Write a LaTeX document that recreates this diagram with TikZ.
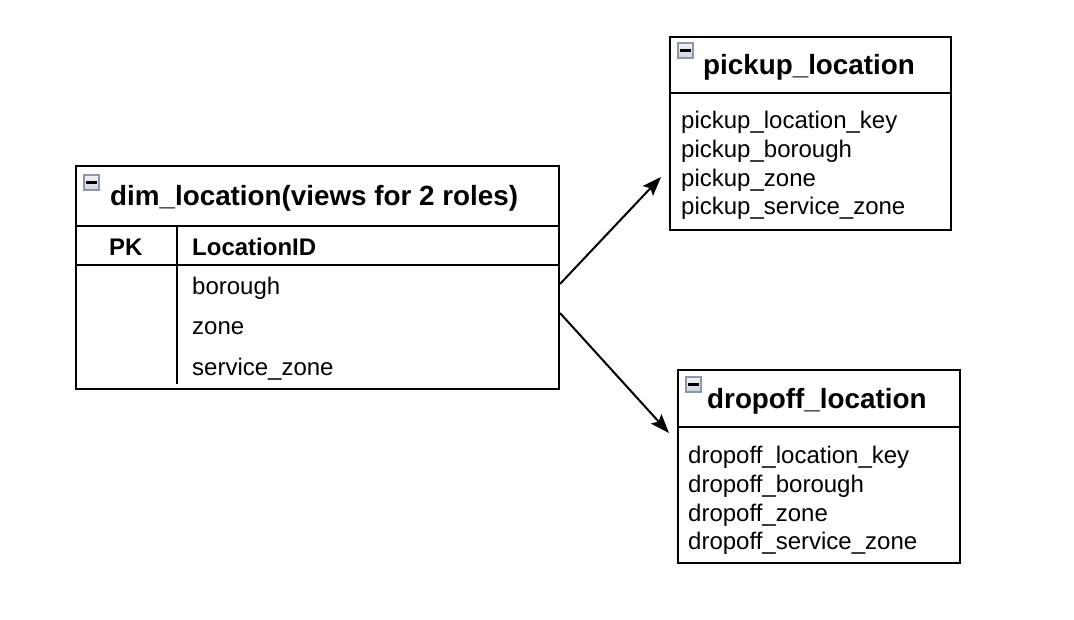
\documentclass[tikz,border=0pt]{standalone}
\usepackage{fontspec}
\setmainfont{Liberation Sans}
\usetikzlibrary{arrows.meta}
\definecolor{iconborder}{HTML}{8E97A8}
\definecolor{iconfilltop}{HTML}{F2F3F6}
\definecolor{iconfillbot}{HTML}{CDD2DA}
\begin{document}
\begin{tikzpicture}[x=1pt,y=-1pt,
  box/.style={draw, line width=2pt, anchor=north west, inner sep=0pt},
  rule/.style={line width=2pt},
  vrule/.style={line width=1.6pt},
  title/.style={anchor=base west, inner sep=0pt, font=\fontsize{27.8}{33}\selectfont\bfseries},
  txt/.style={anchor=base west, inner sep=0pt, font=\fontsize{24}{29}\selectfont},
  btxt/.style={anchor=base west, inner sep=0pt, font=\fontsize{24}{29}\selectfont\bfseries},
  icon/.style={draw=iconborder, line width=1.6pt, top color=iconfilltop, bottom color=iconfillbot, minimum size=15.5pt, inner sep=0pt},
  minus/.style={line width=2.6pt, black},
  link/.style={line width=2pt, -{Stealth[length=19pt,width=14pt,inset=3.5pt]}}]
\useasboundingbox (0,0) rectangle (1074,620);

% dim_location
\node[box, minimum width=483pt, minimum height=223pt] (dim) at (75,165) {};
\draw[rule] (75,226) -- (558,226);
\draw[rule] (75,265) -- (558,265);
\draw[vrule] (177,226) -- (177,384);
\node[icon] (icd) at (91.5,182.5) {};
\draw[minus] ([xshift=-5.5pt]icd.center) -- ([xshift=5.5pt]icd.center);
\node[title] (tdim) at (110,206) {dim\_location(views for 2 roles)};
\node[btxt] (pk) at (109,256) {PK};
\node[btxt] (lid) at (192,256) {LocationID};
\node[txt] (bor) at (192,295) {borough};
\node[txt] (zon) at (192,335) {zone};
\node[txt] (svz) at (192,375) {service\_zone};

% pickup_location
\node[box, minimum width=281pt, minimum height=193pt] (pick) at (669,36) {};
\draw[rule] (669,93) -- (950,93);
\node[icon] (icp) at (685.5,50.5) {};
\draw[minus] ([xshift=-5.5pt]icp.center) -- ([xshift=5.5pt]icp.center);
\node[title] (tpick) at (703,75) {pickup\_location};
\node[txt] (p1) at (681,129) {pickup\_location\_key};
\node[txt] (p2) at (681,158) {pickup\_borough};
\node[txt] (p3) at (681,187) {pickup\_zone};
\node[txt] (p4) at (681,215) {pickup\_service\_zone};

% dropoff_location
\node[box, minimum width=282pt, minimum height=193pt] (drop) at (677,369) {};
\draw[rule] (677,427) -- (959,427);
\node[icon] (icq) at (693.5,384.5) {};
\draw[minus] ([xshift=-5.5pt]icq.center) -- ([xshift=5.5pt]icq.center);
\node[title] (tdrop) at (707,408) {dropoff\_location};
\node[txt] (d1) at (688,463) {dropoff\_location\_key};
\node[txt] (d2) at (688,492) {dropoff\_borough};
\node[txt] (d3) at (688,521) {dropoff\_zone};
\node[txt] (d4) at (688,549) {dropoff\_service\_zone};

% connectors
\coordinate (s1) at (dim.east |- 0,284);
\coordinate (e1) at (661,177);
\coordinate (s2) at (dim.east |- 0,313);
\coordinate (e2) at (669,433);
\draw[link] (s1) -- (e1);
\draw[link] (s2) -- (e2);
\end{tikzpicture}
\end{document}
